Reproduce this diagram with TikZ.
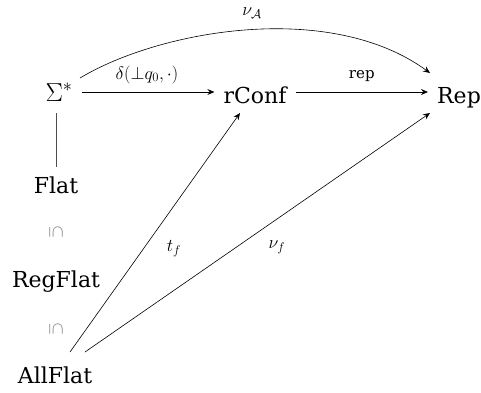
\RequirePackage{fix-cm}
\documentclass[tikz,border=0pt]{standalone}
\usepackage{fontspec}
\setmainfont{DejaVu Serif}
\usetikzlibrary{arrows.meta,calc}
\begin{document}
\begin{tikzpicture}[x=1pt,y=-1pt,
  obj/.style={font=\fontsize{22}{26}\selectfont, inner sep=9pt, anchor=base},
  lab/.style={font=\fontsize{18}{21}\selectfont, inner sep=1pt},
  txtlab/.style={font=\fontsize{15}{18}\selectfont, inner sep=1pt},
  sub/.style={text=black!55, font=\fontsize{17}{20}\selectfont, inner sep=0pt},
  arr/.style={-{Stealth[length=7pt,width=6pt,inset=2.5pt]}, line width=0.6pt},
  plain/.style={line width=0.6pt, draw=black!70}]
\useasboundingbox (0,0) rectangle (481,392);
\node[obj, font=\fontsize{26}{30}\selectfont] (S) at (59,101) {$\Sigma^*$};
\node[obj] (C) at (255,103) {rConf};
\node[obj] (R) at (459,103) {Rep};
\node[obj] (F) at (56,193) {Flat};
\node[sub] (s1) at (56,232) {\rotatebox{-90}{$\subseteq$}};
\node[obj] (G) at (56,287) {RegFlat};
\node[sub] (s2) at (56,329) {\rotatebox{-90}{$\subseteq$}};
\node[obj] (A) at (55,383) {AllFlat};
\coordinate (h) at (0,92);
\coordinate (v) at (0,113);
\coordinate (a1) at (70,352);
\coordinate (a2) at (85,352);
\coordinate (c1) at (240,113);
\coordinate (r1) at (430,113);
\coordinate (s0) at (80,78);
\coordinate (r0) at (430,73);
\draw[arr] (S.east |- h) -- node[lab, above=7pt, xshift=-1pt] (dl) {$\delta(\bot q_0,\cdot)$} (C.west |- h);
\draw[arr] (C.east |- h) -- node[txtlab, above=9pt] (rl) {rep} (R.west |- h);
\draw[arr] (s0) .. controls (160,30) and (330,0) .. (r0);
\node[lab] (nuA) at (252,13) {$\nu_{\mathcal{A}}$};
\draw[plain] (F |- v) -- (F.north);
\draw[arr] (a1) -- (c1);
\draw[arr] (a2) -- (r1);
\node[lab] (tf) at (174,249) {$t_f$};
\node[lab] (nuf) at (277,247) {$\nu_f$};
\end{tikzpicture}
\end{document}
